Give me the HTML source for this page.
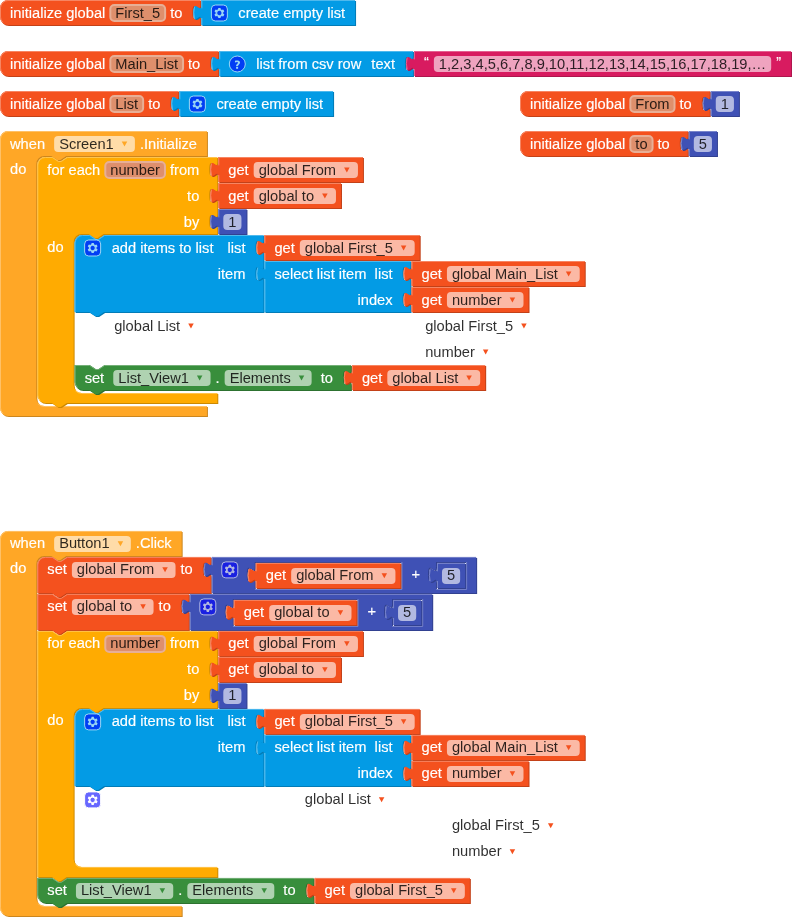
<!DOCTYPE html>
<html><head><meta charset="utf-8"><title>Blocks</title>
<style>
html,body{margin:0;padding:0;background:#fff}
body{width:792px;height:917px;overflow:hidden}
svg{display:block}
text{font-family:"Liberation Sans",sans-serif;font-size:14.6667px}
.t{fill:#fff;stroke:#fff;stroke-width:.15}
.e{fill:#000;fill-opacity:.82}
.re{fill:#fff;fill-opacity:.6}
.rf{fill:rgb(222,143,108);stroke:rgb(231,175,150);stroke-width:2}
.h{fill:none;stroke-linecap:round;stroke-width:1}
.is{fill:#00f;stroke:#fff;stroke-width:1px}
.iy{fill:#fff}
.gi{opacity:.6}
</style></head>
<body>
<svg width="792" height="917" viewBox="0 0 792 917">
<g opacity="0.999">
<g transform="translate(0,0)">
<path class="d" fill="#c34118" transform="translate(1,1)" d="m 0,8 A 8,8 0 0,1 8,0 H 200.36 v 5 c 0,10 -8,-8 -8,7.5 s 8,-2.5 8,7.5 v 5 H 8 a 8,8 0 0,1 -8,-8 z"/>
<path fill="#F4511E" d="m 0,8 A 8,8 0 0,1 8,0 H 200.36 v 5 c 0,10 -8,-8 -8,7.5 s 8,-2.5 8,7.5 v 5 H 8 a 8,8 0 0,1 -8,-8 z"/>
<path class="h" stroke="#f78562" d="m 0.5,7.5 A 7.5,7.5 0 0,1 8,0.5 H 199.86 M 199.86,0.5 M 195.36,19.3 l 3.68,-2.1 M 2.7,22.3 A 7.5,7.5 0 0,1 0.5,17 V 8"/>
<text class="t" x="10" y="17.5">initialize global</text>
<rect class="rf" rx="4" ry="4" x="110.33" y="5" width="54.8" height="16"/>
<text class="e" x="115.33" y="17.5">First_5</text>
<text class="t" x="170.13" y="17.5">to</text>
</g>
<g transform="translate(201.36,0)">
<path class="d" fill="#027cb7" transform="translate(1,1)" d="m 0,0 H 153.7 v 25 H 0 V 20 c 0,-10 -8,8 -8,-7.5 s 8,2.5 8,-7.5 z"/>
<path fill="#039BE5" d="m 0,0 H 153.7 v 25 H 0 V 20 c 0,-10 -8,8 -8,-7.5 s 8,2.5 8,-7.5 z"/>
<path class="h" stroke="#4fb9ed" d="m 0.5,0.5 H 153.2 M 153.2,0.5 M 0.5,24.5 V 18.5 m -7.36,-0.5 q -1.52,-5.5 0,-11 m 7.36,1 V 0.5 H 1"/>
<g class="gi" transform="translate(10,5)"><rect class="is" rx="4" ry="4" width="16" height="16"/><path class="iy" d="m4.203,7.296 0,1.368 -0.92,0.677 -0.11,0.41 0.9,1.559 0.41,0.11 1.043,-0.457 1.187,0.683 0.127,1.134 0.3,0.3 1.8,0 0.3,-0.299 0.127,-1.138 1.185,-0.682 1.046,0.458 0.409,-0.11 0.9,-1.559 -0.11,-0.41 -0.92,-0.677 0,-1.366 0.92,-0.677 0.11,-0.41 -0.9,-1.559 -0.409,-0.109 -1.046,0.458 -1.185,-0.682 -0.127,-1.138 -0.3,-0.299 -1.8,0 -0.3,0.3 -0.126,1.135 -1.187,0.682 -1.043,-0.457 -0.41,0.11 -0.899,1.559 0.108,0.409z"/><circle class="is" r="2.7" cx="8" cy="8"/></g>
<text class="t" x="37" y="17.5">create empty list</text>
</g>
<g transform="translate(0,51)">
<path class="d" fill="#c34118" transform="translate(1,1)" d="m 0,8 A 8,8 0 0,1 8,0 H 218.3 v 5 c 0,10 -8,-8 -8,7.5 s 8,-2.5 8,7.5 v 5 H 8 a 8,8 0 0,1 -8,-8 z"/>
<path fill="#F4511E" d="m 0,8 A 8,8 0 0,1 8,0 H 218.3 v 5 c 0,10 -8,-8 -8,7.5 s 8,-2.5 8,7.5 v 5 H 8 a 8,8 0 0,1 -8,-8 z"/>
<path class="h" stroke="#f78562" d="m 0.5,7.5 A 7.5,7.5 0 0,1 8,0.5 H 217.8 M 217.8,0.5 M 213.3,19.3 l 3.68,-2.1 M 2.7,22.3 A 7.5,7.5 0 0,1 0.5,17 V 8"/>
<text class="t" x="10" y="17.5">initialize global</text>
<rect class="rf" rx="4" ry="4" x="110.33" y="5" width="72.73" height="16"/>
<text class="e" x="115.33" y="17.5">Main_List</text>
<text class="t" x="188.06" y="17.5">to</text>
</g>
<g transform="translate(219.3,51)">
<path class="d" fill="#027cb7" transform="translate(1,1)" d="m 0,0 H 193.67 v 5 c 0,10 -8,-8 -8,7.5 s 8,-2.5 8,7.5 v 5 H 0 V 20 c 0,-10 -8,8 -8,-7.5 s 8,2.5 8,-7.5 z"/>
<path fill="#039BE5" d="m 0,0 H 193.67 v 5 c 0,10 -8,-8 -8,7.5 s 8,-2.5 8,7.5 v 5 H 0 V 20 c 0,-10 -8,8 -8,-7.5 s 8,2.5 8,-7.5 z"/>
<path class="h" stroke="#4fb9ed" d="m 0.5,0.5 H 193.17 M 193.17,0.5 M 188.67,19.3 l 3.68,-2.1 M 0.5,24.5 V 18.5 m -7.36,-0.5 q -1.52,-5.5 0,-11 m 7.36,1 V 0.5 H 1"/>
<g class="gi" transform="translate(10,5)"><circle class="is" r="8" cx="8" cy="8"/><path class="iy" d="m6.8,10h2c0.003,-0.617 0.271,-0.962 0.633,-1.266 2.875,-2.405 0.607,-5.534 -3.765,-3.874v1.7c3.12,-1.657 3.698,0.118 2.336,1.25 -1.201,0.998 -1.201,1.528 -1.204,2.19z"/><rect class="iy" x="6.8" y="10.78" width="2" height="2"/></g>
<text class="t" x="37" y="17.5">list from csv row</text>
<text class="t" x="152.05" y="17.5">text</text>
</g>
<g transform="translate(413.97,51)">
<path class="d" fill="#ad164d" transform="translate(1,1)" d="m 0,0 H 377.11 v 25 H 0 V 20 c 0,-10 -8,8 -8,-7.5 s 8,2.5 8,-7.5 z"/>
<path fill="#D81B60" d="m 0,0 H 377.11 v 25 H 0 V 20 c 0,-10 -8,8 -8,-7.5 s 8,2.5 8,-7.5 z"/>
<path class="h" stroke="#e45f90" d="m 0.5,0.5 H 376.61 M 376.61,0.5 M 0.5,24.5 V 18.5 m -7.36,-0.5 q -1.52,-5.5 0,-11 m 7.36,1 V 0.5 H 1"/>
<text class="t" x="10" y="15.5">“</text>
<rect class="re" rx="4" ry="4" x="19.89" y="5" width="337.33" height="16"/>
<text class="e" x="24.89" y="17.5">1,2,3,4,5,6,7,8,9,10,11,12,13,14,15,16,17,18,19,…</text>
<text class="t" x="362.22" y="15.5">”</text>
</g>
<g transform="translate(0,91)">
<path class="d" fill="#c34118" transform="translate(1,1)" d="m 0,8 A 8,8 0 0,1 8,0 H 178.38 v 5 c 0,10 -8,-8 -8,7.5 s 8,-2.5 8,7.5 v 5 H 8 a 8,8 0 0,1 -8,-8 z"/>
<path fill="#F4511E" d="m 0,8 A 8,8 0 0,1 8,0 H 178.38 v 5 c 0,10 -8,-8 -8,7.5 s 8,-2.5 8,7.5 v 5 H 8 a 8,8 0 0,1 -8,-8 z"/>
<path class="h" stroke="#f78562" d="m 0.5,7.5 A 7.5,7.5 0 0,1 8,0.5 H 177.88 M 177.88,0.5 M 173.38,19.3 l 3.68,-2.1 M 2.7,22.3 A 7.5,7.5 0 0,1 0.5,17 V 8"/>
<text class="t" x="10" y="17.5">initialize global</text>
<rect class="rf" rx="4" ry="4" x="110.33" y="5" width="32.81" height="16"/>
<text class="e" x="115.33" y="17.5">List</text>
<text class="t" x="148.14" y="17.5">to</text>
</g>
<g transform="translate(179.38,91)">
<path class="d" fill="#027cb7" transform="translate(1,1)" d="m 0,0 H 153.7 v 25 H 0 V 20 c 0,-10 -8,8 -8,-7.5 s 8,2.5 8,-7.5 z"/>
<path fill="#039BE5" d="m 0,0 H 153.7 v 25 H 0 V 20 c 0,-10 -8,8 -8,-7.5 s 8,2.5 8,-7.5 z"/>
<path class="h" stroke="#4fb9ed" d="m 0.5,0.5 H 153.2 M 153.2,0.5 M 0.5,24.5 V 18.5 m -7.36,-0.5 q -1.52,-5.5 0,-11 m 7.36,1 V 0.5 H 1"/>
<g class="gi" transform="translate(10,5)"><rect class="is" rx="4" ry="4" width="16" height="16"/><path class="iy" d="m4.203,7.296 0,1.368 -0.92,0.677 -0.11,0.41 0.9,1.559 0.41,0.11 1.043,-0.457 1.187,0.683 0.127,1.134 0.3,0.3 1.8,0 0.3,-0.299 0.127,-1.138 1.185,-0.682 1.046,0.458 0.409,-0.11 0.9,-1.559 -0.11,-0.41 -0.92,-0.677 0,-1.366 0.92,-0.677 0.11,-0.41 -0.9,-1.559 -0.409,-0.109 -1.046,0.458 -1.185,-0.682 -0.127,-1.138 -0.3,-0.299 -1.8,0 -0.3,0.3 -0.126,1.135 -1.187,0.682 -1.043,-0.457 -0.41,0.11 -0.899,1.559 0.108,0.409z"/><circle class="is" r="2.7" cx="8" cy="8"/></g>
<text class="t" x="37" y="17.5">create empty list</text>
</g>
<g transform="translate(520,91)">
<path class="d" fill="#c34118" transform="translate(1,1)" d="m 0,8 A 8,8 0 0,1 8,0 H 189.77 v 5 c 0,10 -8,-8 -8,7.5 s 8,-2.5 8,7.5 v 5 H 8 a 8,8 0 0,1 -8,-8 z"/>
<path fill="#F4511E" d="m 0,8 A 8,8 0 0,1 8,0 H 189.77 v 5 c 0,10 -8,-8 -8,7.5 s 8,-2.5 8,7.5 v 5 H 8 a 8,8 0 0,1 -8,-8 z"/>
<path class="h" stroke="#f78562" d="m 0.5,7.5 A 7.5,7.5 0 0,1 8,0.5 H 189.27 M 189.27,0.5 M 184.77,19.3 l 3.68,-2.1 M 2.7,22.3 A 7.5,7.5 0 0,1 0.5,17 V 8"/>
<text class="t" x="10" y="17.5">initialize global</text>
<rect class="rf" rx="4" ry="4" x="110.33" y="5" width="44.2" height="16"/>
<text class="e" x="115.33" y="17.5">From</text>
<text class="t" x="159.53" y="17.5">to</text>
</g>
<g transform="translate(710.77,91)">
<path class="d" fill="#324191" transform="translate(1,1)" d="m 0,0 H 28.16 v 25 H 0 V 20 c 0,-10 -8,8 -8,-7.5 s 8,2.5 8,-7.5 z"/>
<path fill="#3F51B5" d="m 0,0 H 28.16 v 25 H 0 V 20 c 0,-10 -8,8 -8,-7.5 s 8,2.5 8,-7.5 z"/>
<path class="h" stroke="#7985cb" d="m 0.5,0.5 H 27.66 M 27.66,0.5 M 0.5,24.5 V 18.5 m -7.36,-0.5 q -1.52,-5.5 0,-11 m 7.36,1 V 0.5 H 1"/>
<rect class="re" rx="4" ry="4" x="5" y="5" width="18.16" height="16"/>
<text class="e" x="10" y="17.5">1</text>
</g>
<g transform="translate(520,131)">
<path class="d" fill="#c34118" transform="translate(1,1)" d="m 0,8 A 8,8 0 0,1 8,0 H 167.8 v 5 c 0,10 -8,-8 -8,7.5 s 8,-2.5 8,7.5 v 5 H 8 a 8,8 0 0,1 -8,-8 z"/>
<path fill="#F4511E" d="m 0,8 A 8,8 0 0,1 8,0 H 167.8 v 5 c 0,10 -8,-8 -8,7.5 s 8,-2.5 8,7.5 v 5 H 8 a 8,8 0 0,1 -8,-8 z"/>
<path class="h" stroke="#f78562" d="m 0.5,7.5 A 7.5,7.5 0 0,1 8,0.5 H 167.3 M 167.3,0.5 M 162.8,19.3 l 3.68,-2.1 M 2.7,22.3 A 7.5,7.5 0 0,1 0.5,17 V 8"/>
<text class="t" x="10" y="17.5">initialize global</text>
<rect class="rf" rx="4" ry="4" x="110.33" y="5" width="22.23" height="16"/>
<text class="e" x="115.33" y="17.5">to</text>
<text class="t" x="137.56" y="17.5">to</text>
</g>
<g transform="translate(688.8,131)">
<path class="d" fill="#324191" transform="translate(1,1)" d="m 0,0 H 28.16 v 25 H 0 V 20 c 0,-10 -8,8 -8,-7.5 s 8,2.5 8,-7.5 z"/>
<path fill="#3F51B5" d="m 0,0 H 28.16 v 25 H 0 V 20 c 0,-10 -8,8 -8,-7.5 s 8,2.5 8,-7.5 z"/>
<path class="h" stroke="#7985cb" d="m 0.5,0.5 H 27.66 M 27.66,0.5 M 0.5,24.5 V 18.5 m -7.36,-0.5 q -1.52,-5.5 0,-11 m 7.36,1 V 0.5 H 1"/>
<rect class="re" rx="4" ry="4" x="5" y="5" width="18.16" height="16"/>
<text class="e" x="10" y="17.5">5</text>
</g>
<g transform="translate(0,131)">
<path class="d" fill="#cc861e" transform="translate(1,1)" d="m 0,8 A 8,8 0 0,1 8,0 H 206.93 v 25 H 66.31 l -6,4 -3,0 -6,-4 h -7 a 8,8 0 0,0 -8,8 v 234 a 8,8 0 0,0 8,8 H 206.93 v 10 H 8 a 8,8 0 0,1 -8,-8 z"/>
<path fill="#FFA726" d="m 0,8 A 8,8 0 0,1 8,0 H 206.93 v 25 H 66.31 l -6,4 -3,0 -6,-4 h -7 a 8,8 0 0,0 -8,8 v 234 a 8,8 0 0,0 8,8 H 206.93 v 10 H 8 a 8,8 0 0,1 -8,-8 z"/>
<path class="h" stroke="#ffc167" d="m 0.5,7.5 A 7.5,7.5 0 0,1 8,0.5 H 206.43 M 206.43,0.5 M 206.43,25.5 M 38.3,273.01 a 8.5,8.5 0 0,0 6.0104076400856545,2.4895923599143455 H 206.43 M 2.7,282.3 A 7.5,7.5 0 0,1 0.5,277 V 8"/>
<text class="t" x="10" y="17.5">when </text>
<rect class="re" rx="4" ry="4" x="54.13" y="5" width="80.77" height="16"/>
<text class="e" x="59.13" y="17.5">Screen1</text>
<path fill="#FFA726" d="M121.75,10.4 h5.5 l-2.75,5 z"/>
<text class="t" x="139.9" y="17.5">.Initialize</text>
<text class="t" x="10" y="42.5">do</text>
</g>
<g transform="translate(37.31,157)">
<path class="d" fill="#cc8900" transform="translate(1,1)" d="m 0,8 A 8,8 0 0,1 8,0 H 15 l 6,4 3,0 6,-4 H 179.98 v 5 c 0,10 -8,-8 -8,7.5 s 8,-2.5 8,7.5 v 6 v 5 c 0,10 -8,-8 -8,7.5 s 8,-2.5 8,7.5 v 6 v 5 c 0,10 -8,-8 -8,7.5 s 8,-2.5 8,7.5 v 5 H 66.31 l -6,4 -3,0 -6,-4 h -7 a 8,8 0 0,0 -8,8 v 143 a 8,8 0 0,0 8,8 H 179.98 v 10 H 29.5 l -6,4 -3,0 -6,-4 H 8 a 8,8 0 0,1 -8,-8 z"/>
<path fill="#FFAB00" d="m 0,8 A 8,8 0 0,1 8,0 H 15 l 6,4 3,0 6,-4 H 179.98 v 5 c 0,10 -8,-8 -8,7.5 s 8,-2.5 8,7.5 v 6 v 5 c 0,10 -8,-8 -8,7.5 s 8,-2.5 8,7.5 v 6 v 5 c 0,10 -8,-8 -8,7.5 s 8,-2.5 8,7.5 v 5 H 66.31 l -6,4 -3,0 -6,-4 h -7 a 8,8 0 0,0 -8,8 v 143 a 8,8 0 0,0 8,8 H 179.98 v 10 H 29.5 l -6,4 -3,0 -6,-4 H 8 a 8,8 0 0,1 -8,-8 z"/>
<path class="h" stroke="#ffc44d" d="m 0.5,7.5 A 7.5,7.5 0 0,1 8,0.5 H 15 l 6,4 3,0 6,-4 H 179.48 M 179.48,0.5 M 174.98,19.3 l 3.68,-2.1 M 179.48,26.5 M 174.98,45.3 l 3.68,-2.1 M 179.48,52.5 M 174.98,71.3 l 3.68,-2.1 M 179.48,77.5 M 38.3,234.01 a 8.5,8.5 0 0,0 6.0104076400856545,2.4895923599143455 H 179.48 M 2.7,243.3 A 7.5,7.5 0 0,1 0.5,238 V 8"/>
<text class="t" x="10" y="17.5">for each</text>
<rect class="rf" rx="4" ry="4" x="67.97" y="5" width="59.7" height="16"/>
<text class="e" x="72.97" y="17.5">number</text>
<text class="t" x="132.67" y="17.5">from</text>
<text class="t" x="149.75" y="43.5">to</text>
<text class="t" x="146.5" y="69.5">by</text>
<text class="t" x="10" y="94.5">do</text>
</g>
<g transform="translate(218.3,157)">
<path class="d" fill="#c34118" transform="translate(1,1)" d="m 0,0 H 144.64 v 25 H 0 V 20 c 0,-10 -8,8 -8,-7.5 s 8,2.5 8,-7.5 z"/>
<path fill="#F4511E" d="m 0,0 H 144.64 v 25 H 0 V 20 c 0,-10 -8,8 -8,-7.5 s 8,2.5 8,-7.5 z"/>
<path class="h" stroke="#f78562" d="m 0.5,0.5 H 144.14 M 144.14,0.5 M 0.5,24.5 V 18.5 m -7.36,-0.5 q -1.52,-5.5 0,-11 m 7.36,1 V 0.5 H 1"/>
<text class="t" x="10" y="17.5">get</text>
<rect class="re" rx="4" ry="4" x="35.38" y="5" width="104.27" height="16"/>
<text class="e" x="40.38" y="17.5">global From</text>
<path fill="#F4511E" d="M125.79,10.4 h5.5 l-2.75,5 z"/>
</g>
<g transform="translate(218.3,183)">
<path class="d" fill="#c34118" transform="translate(1,1)" d="m 0,0 H 122.68 v 25 H 0 V 20 c 0,-10 -8,8 -8,-7.5 s 8,2.5 8,-7.5 z"/>
<path fill="#F4511E" d="m 0,0 H 122.68 v 25 H 0 V 20 c 0,-10 -8,8 -8,-7.5 s 8,2.5 8,-7.5 z"/>
<path class="h" stroke="#f78562" d="m 0.5,0.5 H 122.18 M 122.18,0.5 M 0.5,24.5 V 18.5 m -7.36,-0.5 q -1.52,-5.5 0,-11 m 7.36,1 V 0.5 H 1"/>
<text class="t" x="10" y="17.5">get</text>
<rect class="re" rx="4" ry="4" x="35.38" y="5" width="82.3" height="16"/>
<text class="e" x="40.38" y="17.5">global to</text>
<path fill="#F4511E" d="M103.83,10.4 h5.5 l-2.75,5 z"/>
</g>
<g transform="translate(218.3,209)">
<path class="d" fill="#324191" transform="translate(1,1)" d="m 0,0 H 28.16 v 25 H 0 V 20 c 0,-10 -8,8 -8,-7.5 s 8,2.5 8,-7.5 z"/>
<path fill="#3F51B5" d="m 0,0 H 28.16 v 25 H 0 V 20 c 0,-10 -8,8 -8,-7.5 s 8,2.5 8,-7.5 z"/>
<path class="h" stroke="#7985cb" d="m 0.5,0.5 H 27.66 M 27.66,0.5 M 0.5,24.5 V 18.5 m -7.36,-0.5 q -1.52,-5.5 0,-11 m 7.36,1 V 0.5 H 1"/>
<rect class="re" rx="4" ry="4" x="5" y="5" width="18.16" height="16"/>
<text class="e" x="10" y="17.5">1</text>
</g>
<g transform="translate(74.63,235)">
<path class="d" fill="#027cb7" transform="translate(1,1)" d="m 0,8 A 8,8 0 0,1 8,0 H 15 l 6,4 3,0 6,-4 H 188.83 v 5 c 0,10 -8,-8 -8,7.5 s 8,-2.5 8,7.5 v 6 v 5 c 0,10 -8,-8 -8,7.5 s 8,-2.5 8,7.5 v 31 H 29.5 l -6,4 -3,0 -6,-4 H 0 z"/>
<path fill="#039BE5" d="m 0,8 A 8,8 0 0,1 8,0 H 15 l 6,4 3,0 6,-4 H 188.83 v 5 c 0,10 -8,-8 -8,7.5 s 8,-2.5 8,7.5 v 6 v 5 c 0,10 -8,-8 -8,7.5 s 8,-2.5 8,7.5 v 31 H 29.5 l -6,4 -3,0 -6,-4 H 0 z"/>
<path class="h" stroke="#4fb9ed" d="m 0.5,7.5 A 7.5,7.5 0 0,1 8,0.5 H 15 l 6,4 3,0 6,-4 H 188.33 M 188.33,0.5 M 183.83,19.3 l 3.68,-2.1 M 188.33,26.5 M 183.83,45.3 l 3.68,-2.1 M 0.5,76.5 V 8"/>
<g class="gi" transform="translate(10,5)"><rect class="is" rx="4" ry="4" width="16" height="16"/><path class="iy" d="m4.203,7.296 0,1.368 -0.92,0.677 -0.11,0.41 0.9,1.559 0.41,0.11 1.043,-0.457 1.187,0.683 0.127,1.134 0.3,0.3 1.8,0 0.3,-0.299 0.127,-1.138 1.185,-0.682 1.046,0.458 0.409,-0.11 0.9,-1.559 -0.11,-0.41 -0.92,-0.677 0,-1.366 0.92,-0.677 0.11,-0.41 -0.9,-1.559 -0.409,-0.109 -1.046,0.458 -1.185,-0.682 -0.127,-1.138 -0.3,-0.299 -1.8,0 -0.3,0.3 -0.126,1.135 -1.187,0.682 -1.043,-0.457 -0.41,0.11 -0.899,1.559 0.108,0.409z"/><circle class="is" r="2.7" cx="8" cy="8"/></g>
<text class="t" x="37" y="17.5">add items to list </text>
<text class="t" x="152.91" y="17.5">list</text>
<text class="t" x="143.13" y="43.5">item</text>
</g>
<g transform="translate(264.45,235)">
<path class="d" fill="#c34118" transform="translate(1,1)" d="m 0,0 H 155.24 v 25 H 0 V 20 c 0,-10 -8,8 -8,-7.5 s 8,2.5 8,-7.5 z"/>
<path fill="#F4511E" d="m 0,0 H 155.24 v 25 H 0 V 20 c 0,-10 -8,8 -8,-7.5 s 8,2.5 8,-7.5 z"/>
<path class="h" stroke="#f78562" d="m 0.5,0.5 H 154.74 M 154.74,0.5 M 0.5,24.5 V 18.5 m -7.36,-0.5 q -1.52,-5.5 0,-11 m 7.36,1 V 0.5 H 1"/>
<text class="t" x="10" y="17.5">get</text>
<rect class="re" rx="4" ry="4" x="35.38" y="5" width="114.86" height="16"/>
<text class="e" x="40.38" y="17.5">global First_5</text>
<path fill="#F4511E" d="M136.39,10.4 h5.5 l-2.75,5 z"/>
</g>
<g transform="translate(264.45,261)">
<path class="d" fill="#027cb7" transform="translate(1,1)" d="m 0,0 H 146.09 v 5 c 0,10 -8,-8 -8,7.5 s 8,-2.5 8,7.5 v 6 v 5 c 0,10 -8,-8 -8,7.5 s 8,-2.5 8,7.5 v 5 H 0 V 20 c 0,-10 -8,8 -8,-7.5 s 8,2.5 8,-7.5 z"/>
<path fill="#039BE5" d="m 0,0 H 146.09 v 5 c 0,10 -8,-8 -8,7.5 s 8,-2.5 8,7.5 v 6 v 5 c 0,10 -8,-8 -8,7.5 s 8,-2.5 8,7.5 v 5 H 0 V 20 c 0,-10 -8,8 -8,-7.5 s 8,2.5 8,-7.5 z"/>
<path class="h" stroke="#4fb9ed" d="m 0.5,0.5 H 145.59 M 145.59,0.5 M 141.09,19.3 l 3.68,-2.1 M 145.59,26.5 M 141.09,45.3 l 3.68,-2.1 M 0.5,50.5 V 18.5 m -7.36,-0.5 q -1.52,-5.5 0,-11 m 7.36,1 V 0.5 H 1"/>
<text class="t" x="10" y="17.5">select list item  list</text>
<text class="t" x="93.05" y="43.5">index</text>
</g>
<g transform="translate(411.55,261)">
<path class="d" fill="#c34118" transform="translate(1,1)" d="m 0,0 H 173.18 v 25 H 0 V 20 c 0,-10 -8,8 -8,-7.5 s 8,2.5 8,-7.5 z"/>
<path fill="#F4511E" d="m 0,0 H 173.18 v 25 H 0 V 20 c 0,-10 -8,8 -8,-7.5 s 8,2.5 8,-7.5 z"/>
<path class="h" stroke="#f78562" d="m 0.5,0.5 H 172.68 M 172.68,0.5 M 0.5,24.5 V 18.5 m -7.36,-0.5 q -1.52,-5.5 0,-11 m 7.36,1 V 0.5 H 1"/>
<text class="t" x="10" y="17.5">get</text>
<rect class="re" rx="4" ry="4" x="35.38" y="5" width="132.8" height="16"/>
<text class="e" x="40.38" y="17.5">global Main_List</text>
<path fill="#F4511E" d="M154.33,10.4 h5.5 l-2.75,5 z"/>
</g>
<g transform="translate(411.55,287)">
<path class="d" fill="#c34118" transform="translate(1,1)" d="m 0,0 H 116.96 v 25 H 0 V 20 c 0,-10 -8,8 -8,-7.5 s 8,2.5 8,-7.5 z"/>
<path fill="#F4511E" d="m 0,0 H 116.96 v 25 H 0 V 20 c 0,-10 -8,8 -8,-7.5 s 8,2.5 8,-7.5 z"/>
<path class="h" stroke="#f78562" d="m 0.5,0.5 H 116.46 M 116.46,0.5 M 0.5,24.5 V 18.5 m -7.36,-0.5 q -1.52,-5.5 0,-11 m 7.36,1 V 0.5 H 1"/>
<text class="t" x="10" y="17.5">get</text>
<rect class="re" rx="4" ry="4" x="35.38" y="5" width="76.58" height="16"/>
<text class="e" x="40.38" y="17.5">number</text>
<path fill="#F4511E" d="M98.11,10.4 h5.5 l-2.75,5 z"/>
</g>
<g transform="translate(74.63,313)">
<text class="e" x="39.56" y="17.5">global List</text>
<path fill="#F4511E" d="M113.59,10.4 h5.5 l-2.75,5 z"/>
</g>
<g transform="translate(237.7,313)">
</g>
<g transform="translate(384.79,313)">
<text class="e" x="40.38" y="17.5">global First_5</text>
<path fill="#F4511E" d="M136.39,10.4 h5.5 l-2.75,5 z"/>
</g>
<g transform="translate(384.79,339)">
<text class="e" x="40.38" y="17.5">number</text>
<path fill="#F4511E" d="M98.11,10.4 h5.5 l-2.75,5 z"/>
</g>
<g transform="translate(74.63,365)">
<path class="d" fill="#2d7230" transform="translate(1,1)" d="m 0,0 H 15 l 6,4 3,0 6,-4 H 276.29 v 5 c 0,10 -8,-8 -8,7.5 s 8,-2.5 8,7.5 v 5 H 29.5 l -6,4 -3,0 -6,-4 H 8 a 8,8 0 0,1 -8,-8 z"/>
<path fill="#388E3C" d="m 0,0 H 15 l 6,4 3,0 6,-4 H 276.29 v 5 c 0,10 -8,-8 -8,7.5 s 8,-2.5 8,7.5 v 5 H 29.5 l -6,4 -3,0 -6,-4 H 8 a 8,8 0 0,1 -8,-8 z"/>
<path class="h" stroke="#74b077" d="m 0.5,0.5 H 15 l 6,4 3,0 6,-4 H 275.79 M 275.79,0.5 M 271.29,19.3 l 3.68,-2.1 M 2.7,22.3 A 7.5,7.5 0 0,1 0.5,17 V 0.5"/>
<text class="t" x="10" y="17.5">set </text>
<rect class="re" rx="4" ry="4" x="38.63" y="5" width="97.3" height="16"/>
<text class="e" x="43.63" y="17.5">List_View1</text>
<path fill="#388E3C" d="M122.28,10.4 h5.5 l-2.75,5 z"/>
<text class="t" x="140.93" y="17.5">.</text>
<rect class="re" rx="4" ry="4" x="150.01" y="5" width="86.99" height="16"/>
<text class="e" x="155.01" y="17.5">Elements</text>
<path fill="#388E3C" d="M224.14,10.4 h5.5 l-2.75,5 z"/>
<text class="t" x="241.99" y="17.5"> to</text>
</g>
<g transform="translate(351.92,365)">
<path class="d" fill="#c34118" transform="translate(1,1)" d="m 0,0 H 133.25 v 25 H 0 V 20 c 0,-10 -8,8 -8,-7.5 s 8,2.5 8,-7.5 z"/>
<path fill="#F4511E" d="m 0,0 H 133.25 v 25 H 0 V 20 c 0,-10 -8,8 -8,-7.5 s 8,2.5 8,-7.5 z"/>
<path class="h" stroke="#f78562" d="m 0.5,0.5 H 132.75 M 132.75,0.5 M 0.5,24.5 V 18.5 m -7.36,-0.5 q -1.52,-5.5 0,-11 m 7.36,1 V 0.5 H 1"/>
<text class="t" x="10" y="17.5">get</text>
<rect class="re" rx="4" ry="4" x="35.38" y="5" width="92.88" height="16"/>
<text class="e" x="40.38" y="17.5">global List</text>
<path fill="#F4511E" d="M114.4,10.4 h5.5 l-2.75,5 z"/>
</g>
<g transform="translate(0,530.9)">
<path class="d" fill="#cc861e" transform="translate(1,1)" d="m 0,8 A 8,8 0 0,1 8,0 H 181.66 v 25 H 66.31 l -6,4 -3,0 -6,-4 h -7 a 8,8 0 0,0 -8,8 v 334 a 8,8 0 0,0 8,8 H 181.66 v 10 H 8 a 8,8 0 0,1 -8,-8 z"/>
<path fill="#FFA726" d="m 0,8 A 8,8 0 0,1 8,0 H 181.66 v 25 H 66.31 l -6,4 -3,0 -6,-4 h -7 a 8,8 0 0,0 -8,8 v 334 a 8,8 0 0,0 8,8 H 181.66 v 10 H 8 a 8,8 0 0,1 -8,-8 z"/>
<path class="h" stroke="#ffc167" d="m 0.5,7.5 A 7.5,7.5 0 0,1 8,0.5 H 181.16 M 181.16,0.5 M 181.16,25.5 M 38.3,373.01 a 8.5,8.5 0 0,0 6.0104076400856545,2.4895923599143455 H 181.16 M 2.7,382.3 A 7.5,7.5 0 0,1 0.5,377 V 8"/>
<text class="t" x="10" y="17.5">when </text>
<rect class="re" rx="4" ry="4" x="54.13" y="5" width="76.71" height="16"/>
<text class="e" x="59.13" y="17.5">Button1</text>
<path fill="#FFA726" d="M117.68,10.4 h5.5 l-2.75,5 z"/>
<text class="t" x="135.83" y="17.5">.Click</text>
<text class="t" x="10" y="42.5">do</text>
</g>
<g transform="translate(37.31,556.9)">
<path class="d" fill="#c34118" transform="translate(1,1)" d="m 0,8 A 8,8 0 0,1 8,0 H 15 l 6,4 3,0 6,-4 H 173.47 v 5 c 0,10 -8,-8 -8,7.5 s 8,-2.5 8,7.5 v 16 H 29.5 l -6,4 -3,0 -6,-4 H 0 z"/>
<path fill="#F4511E" d="m 0,8 A 8,8 0 0,1 8,0 H 15 l 6,4 3,0 6,-4 H 173.47 v 5 c 0,10 -8,-8 -8,7.5 s 8,-2.5 8,7.5 v 16 H 29.5 l -6,4 -3,0 -6,-4 H 0 z"/>
<path class="h" stroke="#f78562" d="m 0.5,7.5 A 7.5,7.5 0 0,1 8,0.5 H 15 l 6,4 3,0 6,-4 H 172.97 M 172.97,0.5 M 168.47,19.3 l 3.68,-2.1 M 0.5,35.5 V 8"/>
<text class="t" x="10" y="17.5">set</text>
<rect class="re" rx="4" ry="4" x="34.56" y="5" width="103.67" height="16"/>
<text class="e" x="39.56" y="17.5">global From</text>
<path fill="#F4511E" d="M124.98,10.4 h5.5 l-2.75,5 z"/>
<text class="t" x="143.23" y="17.5">to</text>
</g>
<g transform="translate(211.78,556.9)">
<path class="d" fill="#324191" transform="translate(1,1)" d="m 0,0 H 47 H 264.36 v 36 H 0 V 20 c 0,-10 -8,8 -8,-7.5 s 8,2.5 8,-7.5 z M 189.64,5 h -146.64 v 5 c 0,10 -8,-8 -8,7.5 s 8,-2.5 8,7.5 v 7 h 146.64 z M 254.36,5 h -30.16 v 5 c 0,10 -8,-8 -8,7.5 s 8,-2.5 8,7.5 v 7 h 30.16 z"/>
<path fill="#3F51B5" d="m 0,0 H 47 H 264.36 v 36 H 0 V 20 c 0,-10 -8,8 -8,-7.5 s 8,2.5 8,-7.5 z M 189.64,5 h -146.64 v 5 c 0,10 -8,-8 -8,7.5 s 8,-2.5 8,7.5 v 7 h 146.64 z M 254.36,5 h -30.16 v 5 c 0,10 -8,-8 -8,7.5 s 8,-2.5 8,7.5 v 7 h 30.16 z"/>
<path class="h" stroke="#7985cb" d="m 0.5,0.5 H 46.5 M 46.5,0.5 H 263.86 M 0.5,35.5 V 18.5 m -7.36,-0.5 q -1.52,-5.5 0,-11 m 7.36,1 V 0.5 H 1 M 190.14,5.5 v 27 h -146.64 M 37.9,24.3 l 3.68,-2.1 M 254.86,5.5 v 27 h -30.16 M 219.11,24.3 l 3.68,-2.1"/>
<g class="gi" transform="translate(10,5)"><rect class="is" rx="4" ry="4" width="16" height="16"/><path class="iy" d="m4.203,7.296 0,1.368 -0.92,0.677 -0.11,0.41 0.9,1.559 0.41,0.11 1.043,-0.457 1.187,0.683 0.127,1.134 0.3,0.3 1.8,0 0.3,-0.299 0.127,-1.138 1.185,-0.682 1.046,0.458 0.409,-0.11 0.9,-1.559 -0.11,-0.41 -0.92,-0.677 0,-1.366 0.92,-0.677 0.11,-0.41 -0.9,-1.559 -0.409,-0.109 -1.046,0.458 -1.185,-0.682 -0.127,-1.138 -0.3,-0.299 -1.8,0 -0.3,0.3 -0.126,1.135 -1.187,0.682 -1.043,-0.457 -0.41,0.11 -0.899,1.559 0.108,0.409z"/><circle class="is" r="2.7" cx="8" cy="8"/></g>
<text class="t" x="199.64" y="22.5">+</text>
</g>
<g transform="translate(255.78,562.9)">
<path class="d" fill="#c34118" transform="translate(1,1)" d="m 0,0 H 144.64 v 25 H 0 V 20 c 0,-10 -8,8 -8,-7.5 s 8,2.5 8,-7.5 z"/>
<path fill="#F4511E" d="m 0,0 H 144.64 v 25 H 0 V 20 c 0,-10 -8,8 -8,-7.5 s 8,2.5 8,-7.5 z"/>
<path class="h" stroke="#f78562" d="m 0.5,0.5 H 144.14 M 144.14,0.5 M 0.5,24.5 V 18.5 m -7.36,-0.5 q -1.52,-5.5 0,-11 m 7.36,1 V 0.5 H 1"/>
<text class="t" x="10" y="17.5">get</text>
<rect class="re" rx="4" ry="4" x="35.38" y="5" width="104.27" height="16"/>
<text class="e" x="40.38" y="17.5">global From</text>
<path fill="#F4511E" d="M125.79,10.4 h5.5 l-2.75,5 z"/>
</g>
<g transform="translate(436.98,562.9)">
<path class="d" fill="#324191" transform="translate(1,1)" d="m 0,0 H 28.16 v 25 H 0 V 20 c 0,-10 -8,8 -8,-7.5 s 8,2.5 8,-7.5 z"/>
<path fill="#3F51B5" d="m 0,0 H 28.16 v 25 H 0 V 20 c 0,-10 -8,8 -8,-7.5 s 8,2.5 8,-7.5 z"/>
<path class="h" stroke="#7985cb" d="m 0.5,0.5 H 27.66 M 27.66,0.5 M 0.5,24.5 V 18.5 m -7.36,-0.5 q -1.52,-5.5 0,-11 m 7.36,1 V 0.5 H 1"/>
<rect class="re" rx="4" ry="4" x="5" y="5" width="18.16" height="16"/>
<text class="e" x="10" y="17.5">5</text>
</g>
<g transform="translate(37.31,593.9)">
<path class="d" fill="#c34118" transform="translate(1,1)" d="m 0,0 H 15 l 6,4 3,0 6,-4 H 151.5 v 5 c 0,10 -8,-8 -8,7.5 s 8,-2.5 8,7.5 v 16 H 29.5 l -6,4 -3,0 -6,-4 H 0 z"/>
<path fill="#F4511E" d="m 0,0 H 15 l 6,4 3,0 6,-4 H 151.5 v 5 c 0,10 -8,-8 -8,7.5 s 8,-2.5 8,7.5 v 16 H 29.5 l -6,4 -3,0 -6,-4 H 0 z"/>
<path class="h" stroke="#f78562" d="m 0.5,0.5 H 15 l 6,4 3,0 6,-4 H 151 M 151,0.5 M 146.5,19.3 l 3.68,-2.1 M 0.5,35.5 V 0.5"/>
<text class="t" x="10" y="17.5">set</text>
<rect class="re" rx="4" ry="4" x="34.56" y="5" width="81.7" height="16"/>
<text class="e" x="39.56" y="17.5">global to</text>
<path fill="#F4511E" d="M103.01,10.4 h5.5 l-2.75,5 z"/>
<text class="t" x="121.26" y="17.5">to</text>
</g>
<g transform="translate(189.81,593.9)">
<path class="d" fill="#324191" transform="translate(1,1)" d="m 0,0 H 47 H 242.39 v 36 H 0 V 20 c 0,-10 -8,8 -8,-7.5 s 8,2.5 8,-7.5 z M 167.68,5 h -124.68 v 5 c 0,10 -8,-8 -8,7.5 s 8,-2.5 8,7.5 v 7 h 124.68 z M 232.39,5 h -30.16 v 5 c 0,10 -8,-8 -8,7.5 s 8,-2.5 8,7.5 v 7 h 30.16 z"/>
<path fill="#3F51B5" d="m 0,0 H 47 H 242.39 v 36 H 0 V 20 c 0,-10 -8,8 -8,-7.5 s 8,2.5 8,-7.5 z M 167.68,5 h -124.68 v 5 c 0,10 -8,-8 -8,7.5 s 8,-2.5 8,7.5 v 7 h 124.68 z M 232.39,5 h -30.16 v 5 c 0,10 -8,-8 -8,7.5 s 8,-2.5 8,7.5 v 7 h 30.16 z"/>
<path class="h" stroke="#7985cb" d="m 0.5,0.5 H 46.5 M 46.5,0.5 H 241.89 M 0.5,35.5 V 18.5 m -7.36,-0.5 q -1.52,-5.5 0,-11 m 7.36,1 V 0.5 H 1 M 168.18,5.5 v 27 h -124.68 M 37.9,24.3 l 3.68,-2.1 M 232.89,5.5 v 27 h -30.16 M 197.14,24.3 l 3.68,-2.1"/>
<g class="gi" transform="translate(10,5)"><rect class="is" rx="4" ry="4" width="16" height="16"/><path class="iy" d="m4.203,7.296 0,1.368 -0.92,0.677 -0.11,0.41 0.9,1.559 0.41,0.11 1.043,-0.457 1.187,0.683 0.127,1.134 0.3,0.3 1.8,0 0.3,-0.299 0.127,-1.138 1.185,-0.682 1.046,0.458 0.409,-0.11 0.9,-1.559 -0.11,-0.41 -0.92,-0.677 0,-1.366 0.92,-0.677 0.11,-0.41 -0.9,-1.559 -0.409,-0.109 -1.046,0.458 -1.185,-0.682 -0.127,-1.138 -0.3,-0.299 -1.8,0 -0.3,0.3 -0.126,1.135 -1.187,0.682 -1.043,-0.457 -0.41,0.11 -0.899,1.559 0.108,0.409z"/><circle class="is" r="2.7" cx="8" cy="8"/></g>
<text class="t" x="177.68" y="22.5">+</text>
</g>
<g transform="translate(233.81,599.9)">
<path class="d" fill="#c34118" transform="translate(1,1)" d="m 0,0 H 122.68 v 25 H 0 V 20 c 0,-10 -8,8 -8,-7.5 s 8,2.5 8,-7.5 z"/>
<path fill="#F4511E" d="m 0,0 H 122.68 v 25 H 0 V 20 c 0,-10 -8,8 -8,-7.5 s 8,2.5 8,-7.5 z"/>
<path class="h" stroke="#f78562" d="m 0.5,0.5 H 122.18 M 122.18,0.5 M 0.5,24.5 V 18.5 m -7.36,-0.5 q -1.52,-5.5 0,-11 m 7.36,1 V 0.5 H 1"/>
<text class="t" x="10" y="17.5">get</text>
<rect class="re" rx="4" ry="4" x="35.38" y="5" width="82.3" height="16"/>
<text class="e" x="40.38" y="17.5">global to</text>
<path fill="#F4511E" d="M103.83,10.4 h5.5 l-2.75,5 z"/>
</g>
<g transform="translate(393.05,599.9)">
<path class="d" fill="#324191" transform="translate(1,1)" d="m 0,0 H 28.16 v 25 H 0 V 20 c 0,-10 -8,8 -8,-7.5 s 8,2.5 8,-7.5 z"/>
<path fill="#3F51B5" d="m 0,0 H 28.16 v 25 H 0 V 20 c 0,-10 -8,8 -8,-7.5 s 8,2.5 8,-7.5 z"/>
<path class="h" stroke="#7985cb" d="m 0.5,0.5 H 27.66 M 27.66,0.5 M 0.5,24.5 V 18.5 m -7.36,-0.5 q -1.52,-5.5 0,-11 m 7.36,1 V 0.5 H 1"/>
<rect class="re" rx="4" ry="4" x="5" y="5" width="18.16" height="16"/>
<text class="e" x="10" y="17.5">5</text>
</g>
<g transform="translate(37.31,630.9)">
<path class="d" fill="#cc8900" transform="translate(1,1)" d="m 0,0 H 15 l 6,4 3,0 6,-4 H 179.98 v 5 c 0,10 -8,-8 -8,7.5 s 8,-2.5 8,7.5 v 6 v 5 c 0,10 -8,-8 -8,7.5 s 8,-2.5 8,7.5 v 6 v 5 c 0,10 -8,-8 -8,7.5 s 8,-2.5 8,7.5 v 5 H 66.31 l -6,4 -3,0 -6,-4 h -7 a 8,8 0 0,0 -8,8 v 143 a 8,8 0 0,0 8,8 H 179.98 v 10 H 29.5 l -6,4 -3,0 -6,-4 H 0 z"/>
<path fill="#FFAB00" d="m 0,0 H 15 l 6,4 3,0 6,-4 H 179.98 v 5 c 0,10 -8,-8 -8,7.5 s 8,-2.5 8,7.5 v 6 v 5 c 0,10 -8,-8 -8,7.5 s 8,-2.5 8,7.5 v 6 v 5 c 0,10 -8,-8 -8,7.5 s 8,-2.5 8,7.5 v 5 H 66.31 l -6,4 -3,0 -6,-4 h -7 a 8,8 0 0,0 -8,8 v 143 a 8,8 0 0,0 8,8 H 179.98 v 10 H 29.5 l -6,4 -3,0 -6,-4 H 0 z"/>
<path class="h" stroke="#ffc44d" d="m 0.5,0.5 H 15 l 6,4 3,0 6,-4 H 179.48 M 179.48,0.5 M 174.98,19.3 l 3.68,-2.1 M 179.48,26.5 M 174.98,45.3 l 3.68,-2.1 M 179.48,52.5 M 174.98,71.3 l 3.68,-2.1 M 179.48,77.5 M 38.3,234.01 a 8.5,8.5 0 0,0 6.0104076400856545,2.4895923599143455 H 179.48 M 0.5,245.5 V 0.5"/>
<text class="t" x="10" y="17.5">for each</text>
<rect class="rf" rx="4" ry="4" x="67.97" y="5" width="59.7" height="16"/>
<text class="e" x="72.97" y="17.5">number</text>
<text class="t" x="132.67" y="17.5">from</text>
<text class="t" x="149.75" y="43.5">to</text>
<text class="t" x="146.5" y="69.5">by</text>
<text class="t" x="10" y="94.5">do</text>
</g>
<g transform="translate(218.3,630.9)">
<path class="d" fill="#c34118" transform="translate(1,1)" d="m 0,0 H 144.64 v 25 H 0 V 20 c 0,-10 -8,8 -8,-7.5 s 8,2.5 8,-7.5 z"/>
<path fill="#F4511E" d="m 0,0 H 144.64 v 25 H 0 V 20 c 0,-10 -8,8 -8,-7.5 s 8,2.5 8,-7.5 z"/>
<path class="h" stroke="#f78562" d="m 0.5,0.5 H 144.14 M 144.14,0.5 M 0.5,24.5 V 18.5 m -7.36,-0.5 q -1.52,-5.5 0,-11 m 7.36,1 V 0.5 H 1"/>
<text class="t" x="10" y="17.5">get</text>
<rect class="re" rx="4" ry="4" x="35.38" y="5" width="104.27" height="16"/>
<text class="e" x="40.38" y="17.5">global From</text>
<path fill="#F4511E" d="M125.79,10.4 h5.5 l-2.75,5 z"/>
</g>
<g transform="translate(218.3,656.9)">
<path class="d" fill="#c34118" transform="translate(1,1)" d="m 0,0 H 122.68 v 25 H 0 V 20 c 0,-10 -8,8 -8,-7.5 s 8,2.5 8,-7.5 z"/>
<path fill="#F4511E" d="m 0,0 H 122.68 v 25 H 0 V 20 c 0,-10 -8,8 -8,-7.5 s 8,2.5 8,-7.5 z"/>
<path class="h" stroke="#f78562" d="m 0.5,0.5 H 122.18 M 122.18,0.5 M 0.5,24.5 V 18.5 m -7.36,-0.5 q -1.52,-5.5 0,-11 m 7.36,1 V 0.5 H 1"/>
<text class="t" x="10" y="17.5">get</text>
<rect class="re" rx="4" ry="4" x="35.38" y="5" width="82.3" height="16"/>
<text class="e" x="40.38" y="17.5">global to</text>
<path fill="#F4511E" d="M103.83,10.4 h5.5 l-2.75,5 z"/>
</g>
<g transform="translate(218.3,682.9)">
<path class="d" fill="#324191" transform="translate(1,1)" d="m 0,0 H 28.16 v 25 H 0 V 20 c 0,-10 -8,8 -8,-7.5 s 8,2.5 8,-7.5 z"/>
<path fill="#3F51B5" d="m 0,0 H 28.16 v 25 H 0 V 20 c 0,-10 -8,8 -8,-7.5 s 8,2.5 8,-7.5 z"/>
<path class="h" stroke="#7985cb" d="m 0.5,0.5 H 27.66 M 27.66,0.5 M 0.5,24.5 V 18.5 m -7.36,-0.5 q -1.52,-5.5 0,-11 m 7.36,1 V 0.5 H 1"/>
<rect class="re" rx="4" ry="4" x="5" y="5" width="18.16" height="16"/>
<text class="e" x="10" y="17.5">1</text>
</g>
<g transform="translate(74.63,708.9)">
<path class="d" fill="#027cb7" transform="translate(1,1)" d="m 0,8 A 8,8 0 0,1 8,0 H 15 l 6,4 3,0 6,-4 H 188.83 v 5 c 0,10 -8,-8 -8,7.5 s 8,-2.5 8,7.5 v 6 v 5 c 0,10 -8,-8 -8,7.5 s 8,-2.5 8,7.5 v 31 H 29.5 l -6,4 -3,0 -6,-4 H 0 z"/>
<path fill="#039BE5" d="m 0,8 A 8,8 0 0,1 8,0 H 15 l 6,4 3,0 6,-4 H 188.83 v 5 c 0,10 -8,-8 -8,7.5 s 8,-2.5 8,7.5 v 6 v 5 c 0,10 -8,-8 -8,7.5 s 8,-2.5 8,7.5 v 31 H 29.5 l -6,4 -3,0 -6,-4 H 0 z"/>
<path class="h" stroke="#4fb9ed" d="m 0.5,7.5 A 7.5,7.5 0 0,1 8,0.5 H 15 l 6,4 3,0 6,-4 H 188.33 M 188.33,0.5 M 183.83,19.3 l 3.68,-2.1 M 188.33,26.5 M 183.83,45.3 l 3.68,-2.1 M 0.5,76.5 V 8"/>
<g class="gi" transform="translate(10,5)"><rect class="is" rx="4" ry="4" width="16" height="16"/><path class="iy" d="m4.203,7.296 0,1.368 -0.92,0.677 -0.11,0.41 0.9,1.559 0.41,0.11 1.043,-0.457 1.187,0.683 0.127,1.134 0.3,0.3 1.8,0 0.3,-0.299 0.127,-1.138 1.185,-0.682 1.046,0.458 0.409,-0.11 0.9,-1.559 -0.11,-0.41 -0.92,-0.677 0,-1.366 0.92,-0.677 0.11,-0.41 -0.9,-1.559 -0.409,-0.109 -1.046,0.458 -1.185,-0.682 -0.127,-1.138 -0.3,-0.299 -1.8,0 -0.3,0.3 -0.126,1.135 -1.187,0.682 -1.043,-0.457 -0.41,0.11 -0.899,1.559 0.108,0.409z"/><circle class="is" r="2.7" cx="8" cy="8"/></g>
<text class="t" x="37" y="17.5">add items to list </text>
<text class="t" x="152.91" y="17.5">list</text>
<text class="t" x="143.13" y="43.5">item</text>
</g>
<g transform="translate(264.45,708.9)">
<path class="d" fill="#c34118" transform="translate(1,1)" d="m 0,0 H 155.24 v 25 H 0 V 20 c 0,-10 -8,8 -8,-7.5 s 8,2.5 8,-7.5 z"/>
<path fill="#F4511E" d="m 0,0 H 155.24 v 25 H 0 V 20 c 0,-10 -8,8 -8,-7.5 s 8,2.5 8,-7.5 z"/>
<path class="h" stroke="#f78562" d="m 0.5,0.5 H 154.74 M 154.74,0.5 M 0.5,24.5 V 18.5 m -7.36,-0.5 q -1.52,-5.5 0,-11 m 7.36,1 V 0.5 H 1"/>
<text class="t" x="10" y="17.5">get</text>
<rect class="re" rx="4" ry="4" x="35.38" y="5" width="114.86" height="16"/>
<text class="e" x="40.38" y="17.5">global First_5</text>
<path fill="#F4511E" d="M136.39,10.4 h5.5 l-2.75,5 z"/>
</g>
<g transform="translate(264.45,734.9)">
<path class="d" fill="#027cb7" transform="translate(1,1)" d="m 0,0 H 146.09 v 5 c 0,10 -8,-8 -8,7.5 s 8,-2.5 8,7.5 v 6 v 5 c 0,10 -8,-8 -8,7.5 s 8,-2.5 8,7.5 v 5 H 0 V 20 c 0,-10 -8,8 -8,-7.5 s 8,2.5 8,-7.5 z"/>
<path fill="#039BE5" d="m 0,0 H 146.09 v 5 c 0,10 -8,-8 -8,7.5 s 8,-2.5 8,7.5 v 6 v 5 c 0,10 -8,-8 -8,7.5 s 8,-2.5 8,7.5 v 5 H 0 V 20 c 0,-10 -8,8 -8,-7.5 s 8,2.5 8,-7.5 z"/>
<path class="h" stroke="#4fb9ed" d="m 0.5,0.5 H 145.59 M 145.59,0.5 M 141.09,19.3 l 3.68,-2.1 M 145.59,26.5 M 141.09,45.3 l 3.68,-2.1 M 0.5,50.5 V 18.5 m -7.36,-0.5 q -1.52,-5.5 0,-11 m 7.36,1 V 0.5 H 1"/>
<text class="t" x="10" y="17.5">select list item  list</text>
<text class="t" x="93.05" y="43.5">index</text>
</g>
<g transform="translate(411.55,734.9)">
<path class="d" fill="#c34118" transform="translate(1,1)" d="m 0,0 H 173.18 v 25 H 0 V 20 c 0,-10 -8,8 -8,-7.5 s 8,2.5 8,-7.5 z"/>
<path fill="#F4511E" d="m 0,0 H 173.18 v 25 H 0 V 20 c 0,-10 -8,8 -8,-7.5 s 8,2.5 8,-7.5 z"/>
<path class="h" stroke="#f78562" d="m 0.5,0.5 H 172.68 M 172.68,0.5 M 0.5,24.5 V 18.5 m -7.36,-0.5 q -1.52,-5.5 0,-11 m 7.36,1 V 0.5 H 1"/>
<text class="t" x="10" y="17.5">get</text>
<rect class="re" rx="4" ry="4" x="35.38" y="5" width="132.8" height="16"/>
<text class="e" x="40.38" y="17.5">global Main_List</text>
<path fill="#F4511E" d="M154.33,10.4 h5.5 l-2.75,5 z"/>
</g>
<g transform="translate(411.55,760.9)">
<path class="d" fill="#c34118" transform="translate(1,1)" d="m 0,0 H 116.96 v 25 H 0 V 20 c 0,-10 -8,8 -8,-7.5 s 8,2.5 8,-7.5 z"/>
<path fill="#F4511E" d="m 0,0 H 116.96 v 25 H 0 V 20 c 0,-10 -8,8 -8,-7.5 s 8,2.5 8,-7.5 z"/>
<path class="h" stroke="#f78562" d="m 0.5,0.5 H 116.46 M 116.46,0.5 M 0.5,24.5 V 18.5 m -7.36,-0.5 q -1.52,-5.5 0,-11 m 7.36,1 V 0.5 H 1"/>
<text class="t" x="10" y="17.5">get</text>
<rect class="re" rx="4" ry="4" x="35.38" y="5" width="76.58" height="16"/>
<text class="e" x="40.38" y="17.5">number</text>
<path fill="#F4511E" d="M98.11,10.4 h5.5 l-2.75,5 z"/>
</g>
<g transform="translate(74.63,786.9)">
<g class="gi" transform="translate(10,5)"><rect class="is" rx="4" ry="4" width="16" height="16"/><path class="iy" d="m4.203,7.296 0,1.368 -0.92,0.677 -0.11,0.41 0.9,1.559 0.41,0.11 1.043,-0.457 1.187,0.683 0.127,1.134 0.3,0.3 1.8,0 0.3,-0.299 0.127,-1.138 1.185,-0.682 1.046,0.458 0.409,-0.11 0.9,-1.559 -0.11,-0.41 -0.92,-0.677 0,-1.366 0.92,-0.677 0.11,-0.41 -0.9,-1.559 -0.409,-0.109 -1.046,0.458 -1.185,-0.682 -0.127,-1.138 -0.3,-0.299 -1.8,0 -0.3,0.3 -0.126,1.135 -1.187,0.682 -1.043,-0.457 -0.41,0.11 -0.899,1.559 0.108,0.409z"/><circle class="is" r="2.7" cx="8" cy="8"/></g>
</g>
<g transform="translate(264.45,786.9)">
<text class="e" x="40.38" y="17.5">global List</text>
<path fill="#F4511E" d="M114.4,10.4 h5.5 l-2.75,5 z"/>
</g>
<g transform="translate(264.45,812.9)">
</g>
<g transform="translate(411.55,812.9)">
<text class="e" x="40.38" y="17.5">global First_5</text>
<path fill="#F4511E" d="M136.39,10.4 h5.5 l-2.75,5 z"/>
</g>
<g transform="translate(411.55,838.9)">
<text class="e" x="40.38" y="17.5">number</text>
<path fill="#F4511E" d="M98.11,10.4 h5.5 l-2.75,5 z"/>
</g>
<g transform="translate(37.31,877.9)">
<path class="d" fill="#2d7230" transform="translate(1,1)" d="m 0,0 H 15 l 6,4 3,0 6,-4 H 276.29 v 5 c 0,10 -8,-8 -8,7.5 s 8,-2.5 8,7.5 v 5 H 29.5 l -6,4 -3,0 -6,-4 H 8 a 8,8 0 0,1 -8,-8 z"/>
<path fill="#388E3C" d="m 0,0 H 15 l 6,4 3,0 6,-4 H 276.29 v 5 c 0,10 -8,-8 -8,7.5 s 8,-2.5 8,7.5 v 5 H 29.5 l -6,4 -3,0 -6,-4 H 8 a 8,8 0 0,1 -8,-8 z"/>
<path class="h" stroke="#74b077" d="m 0.5,0.5 H 15 l 6,4 3,0 6,-4 H 275.79 M 275.79,0.5 M 271.29,19.3 l 3.68,-2.1 M 2.7,22.3 A 7.5,7.5 0 0,1 0.5,17 V 0.5"/>
<text class="t" x="10" y="17.5">set </text>
<rect class="re" rx="4" ry="4" x="38.63" y="5" width="97.3" height="16"/>
<text class="e" x="43.63" y="17.5">List_View1</text>
<path fill="#388E3C" d="M122.28,10.4 h5.5 l-2.75,5 z"/>
<text class="t" x="140.93" y="17.5">.</text>
<rect class="re" rx="4" ry="4" x="150.01" y="5" width="86.99" height="16"/>
<text class="e" x="155.01" y="17.5">Elements</text>
<path fill="#388E3C" d="M224.14,10.4 h5.5 l-2.75,5 z"/>
<text class="t" x="241.99" y="17.5"> to</text>
</g>
<g transform="translate(314.6,877.9)">
<path class="d" fill="#c34118" transform="translate(1,1)" d="m 0,0 H 155.24 v 25 H 0 V 20 c 0,-10 -8,8 -8,-7.5 s 8,2.5 8,-7.5 z"/>
<path fill="#F4511E" d="m 0,0 H 155.24 v 25 H 0 V 20 c 0,-10 -8,8 -8,-7.5 s 8,2.5 8,-7.5 z"/>
<path class="h" stroke="#f78562" d="m 0.5,0.5 H 154.74 M 154.74,0.5 M 0.5,24.5 V 18.5 m -7.36,-0.5 q -1.52,-5.5 0,-11 m 7.36,1 V 0.5 H 1"/>
<text class="t" x="10" y="17.5">get</text>
<rect class="re" rx="4" ry="4" x="35.38" y="5" width="114.86" height="16"/>
<text class="e" x="40.38" y="17.5">global First_5</text>
<path fill="#F4511E" d="M136.39,10.4 h5.5 l-2.75,5 z"/>
</g>
</g>
</svg>
</body></html>
